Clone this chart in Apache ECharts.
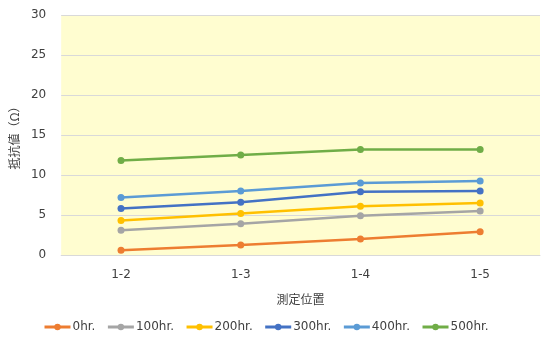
<!DOCTYPE html>
<html>
<head>
<meta charset="utf-8">
<script src="https://cdn.jsdelivr.net/npm/echarts@6/dist/echarts.min.js"></script>
<style>
  html, body { margin: 0; padding: 0; background: #fff; }
  #chart { width: 559px; height: 345px; }
</style>
</head>
<body>
<div id="chart"></div>
<script>
var categories = ['1-2', '1-3', '1-4', '1-5'];
var seriesNames = ['0hr.', '100hr.', '200hr.', '300hr.', '400hr.', '500hr.'];
var hr0 = [0.6, 1.25, 2.0, 2.9];
var hr100 = [3.1, 3.9, 4.9, 5.5];
var hr200 = [4.3, 5.2, 6.1, 6.5];
var hr300 = [5.8, 6.6, 7.9, 8.0];
var hr400 = [7.2, 8.0, 9.0, 9.25];
var hr500 = [11.8, 12.5, 13.2, 13.2];
var colors = ['#ED7D31', '#A5A5A5', '#FFC000', '#4472C4', '#5B9BD5', '#70AD47'];

var font = '"DejaVu Sans", "Noto Sans CJK JP", sans-serif';
var allData = [hr0, hr100, hr200, hr300, hr400, hr500];

var chart = echarts.init(document.getElementById('chart'));
var option = {
  backgroundColor: '#ffffff',
  color: colors,
  textStyle: { fontFamily: font },
  grid: {
    left: 60, right: 19, top: 15, bottom: 90,
    show: true, backgroundColor: '#FFFDD0', borderWidth: 0
  },
  legend: {
    top: 316,
    left: 38,
    itemWidth: 26,
    itemHeight: 8,
    itemGap: 11,
    lineStyle: { width: 3 },
    textStyle: { fontSize: 12, color: '#404040', fontFamily: font, padding: [0, 0, 0, -3] },
    data: seriesNames
  },
  xAxis: {
    type: 'category',
    data: categories,
    boundaryGap: true,
    name: '測定位置',
    nameLocation: 'middle',
    nameGap: 38,
    nameTextStyle: { fontSize: 12, color: '#404040', fontFamily: '"Noto Sans CJK JP", sans-serif' },
    axisLine: { lineStyle: { color: '#d9d9d9' } },
    axisTick: { show: false },
    axisLabel: { fontSize: 12, color: '#404040', margin: 14 }
  },
  yAxis: {
    type: 'value',
    min: 0, max: 30, interval: 5,
    name: '抵抗値（Ω）',
    nameLocation: 'middle',
    nameGap: 32,
    nameTextStyle: { fontSize: 12, color: '#404040', fontFamily: '"Noto Sans CJK JP", sans-serif' },
    axisLine: { show: false },
    axisTick: { show: false },
    axisLabel: { fontSize: 12, color: '#404040', margin: 15 },
    splitLine: { lineStyle: { color: '#d9d9d9' } }
  },
  series: seriesNames.map(function (n, i) {
    return {
      name: n,
      type: 'line',
      data: allData[i],
      symbol: 'circle',
      symbolSize: 7,
      lineStyle: { width: 2.5 },
      itemStyle: { color: colors[i] }
    };
  })
};
chart.setOption(option);
</script>
</body>
</html>
